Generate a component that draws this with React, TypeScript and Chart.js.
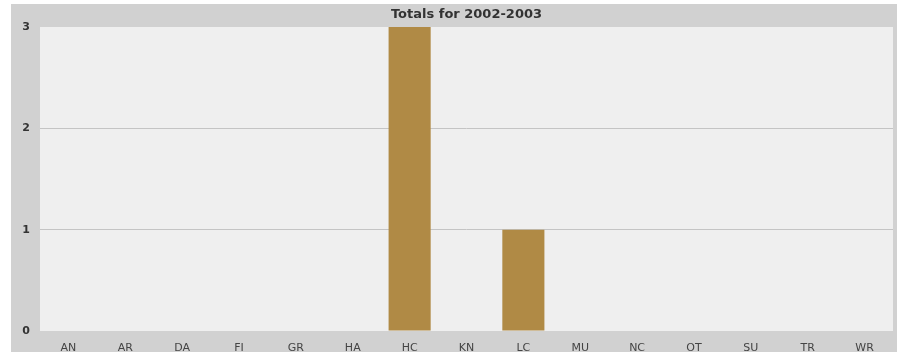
import React, { useEffect, useRef } from "react";
import { Chart, registerables } from "chart.js";

Chart.register(...registerables);

const categories = ["AN", "AR", "DA", "FI", "GR", "HA", "HC", "KN", "LC", "MU", "NC", "OT", "SU", "TR", "WR"];
const totals = [0, 0, 0, 0, 0, 0, 3, 0, 1, 0, 0, 0, 0, 0, 0];
const yTicks = [0, 1, 2, 3];
const titleText = "Totals for 2002-2003";

const framePlugin = {
  id: "frame",
  beforeDraw(chart: any) {
    const { ctx, chartArea, width, height } = chart;
    ctx.save();
    ctx.fillStyle = "#ffffff";
    ctx.fillRect(0, 0, width, height);
    ctx.fillStyle = "#d1d1d1";
    ctx.fillRect(11, 4, width - 11, height - 4);
    ctx.fillStyle = "#efefef";
    ctx.fillRect(chartArea.left, chartArea.top, chartArea.right - chartArea.left, chartArea.bottom - chartArea.top);
    ctx.fillStyle = "#333333";
    ctx.font = "bold 13px 'DejaVu Sans'";
    ctx.textAlign = "center";
    ctx.textBaseline = "middle";
    ctx.fillText(titleText, (chartArea.left + chartArea.right) / 2, 15);
    ctx.restore();
  },
};

export default function App() {
  const ref = useRef<HTMLCanvasElement | null>(null);
  useEffect(() => {
    document.body.style.margin = "0";
    const chart = new Chart(ref.current as HTMLCanvasElement, {
      type: "bar",
      data: {
        labels: categories,
        datasets: [
          {
            data: totals,
            backgroundColor: "#b08a45",
            borderWidth: 0,
            barPercentage: 0.74,
            categoryPercentage: 1,
          },
        ],
      },
      options: {
        animation: false,
        responsive: false,
        layout: { padding: { left: 11, right: 4, top: 27, bottom: 0 } },
        plugins: { legend: { display: false }, tooltip: { enabled: false }, title: { display: false } },
        scales: {
          x: {
            grid: { display: false },
            border: { display: false },
            ticks: { color: "#444444", font: { family: "'DejaVu Sans'", size: 11 }, padding: 3, maxRotation: 0 },
            afterFit(scale: any) {
              scale.height = 21;
            },
          },
          y: {
            min: 0,
            max: 3,
            afterBuildTicks(scale: any) {
              scale.ticks = yTicks.map((v) => ({ value: v }));
            },
            grid: {
              color: (c: any) => (c.tick && (c.tick.value === 1 || c.tick.value === 2) ? "#c4c4c4" : "rgba(0,0,0,0)"),
              drawTicks: false,
              lineWidth: 1,
            },
            border: { display: false },
            ticks: { color: "#333333", font: { family: "'DejaVu Sans'", size: 11, weight: "bold" }, padding: 10 },
            afterFit(scale: any) {
              scale.width = 29;
            },
          },
        },
      },
      plugins: [framePlugin],
    });
    return () => chart.destroy();
  }, []);
  return <canvas ref={ref} width={897} height={352} style={{ display: "block" }} />;
}
